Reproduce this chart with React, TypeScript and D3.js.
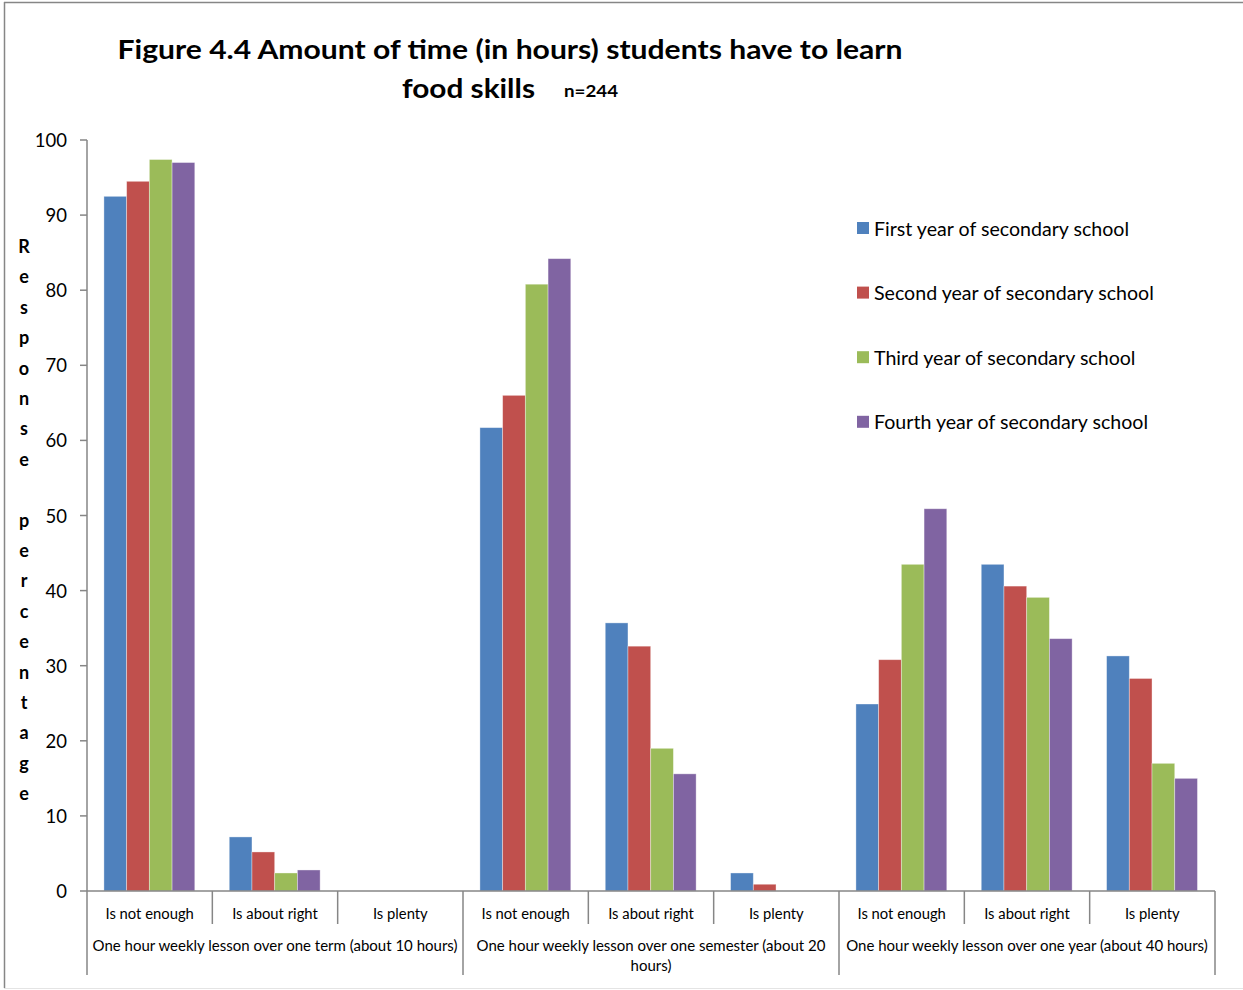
import React from "react";
import * as d3 from "d3";

const groups = [
  "One hour weekly lesson over one term (about 10 hours)",
  "One hour weekly lesson over one semester (about 20 hours)",
  "One hour weekly lesson over one year (about 40 hours)",
];
const answers = ["Is not enough", "Is about right", "Is plenty"];
const seriesNames = [
  "First year of secondary school",
  "Second year of secondary school",
  "Third year of secondary school",
  "Fourth year of secondary school",
];
const colors = ["#4F81BD", "#C0504D", "#9BBB59", "#8064A2"];
// values per category (group x answer), in series order
const firstYear = [92.5, 7.2, 0, 61.7, 35.7, 2.4, 24.9, 43.5, 31.3];
const secondYear = [94.5, 5.2, 0, 66.0, 32.6, 0.9, 30.8, 40.6, 28.3];
const thirdYear = [97.4, 2.4, 0, 80.8, 19.0, 0, 43.5, 39.1, 17.0];
const fourthYear = [97.0, 2.8, 0, 84.2, 15.6, 0, 50.9, 33.6, 15.0];
const yTicks = [0, 10, 20, 30, 40, 50, 60, 70, 80, 90, 100];
const yLabel = "Response percentage";

const seriesValues = [firstYear, secondYear, thirdYear, fourthYear];

const FONT = "Lato, 'Open Sans', sans-serif";
const AXIS = "#868686";

export default function App() {
  const left = 87;
  const right = 1215;
  const top = 140;
  const bottom = 891;

  const cats = groups.flatMap((g, gi) => answers.map((a, ai) => `${gi}-${ai}`));
  const x = d3.scaleBand<string>().domain(cats).range([left, right]).paddingInner(0).paddingOuter(0);
  const bw = x.bandwidth();
  const inner = d3
    .scaleBand<number>()
    .domain(d3.range(seriesNames.length))
    .range([bw * 0.135, bw * 0.86])
    .padding(0);
  const y = d3.scaleLinear().domain([0, 100]).range([bottom, top]);

  const groupW = bw * answers.length;

  return (
    <svg
      width={1243}
      height={990}
      style={{ position: "absolute", left: 0, top: 0, background: "#fff" }}
      fontFamily={FONT}
    >
      <rect x={0} y={0} width={1243} height={990} fill="#fff" />
      {/* outer frame */}
      <line x1={4.5} y1={2} x2={4.5} y2={988} stroke={AXIS} strokeWidth={1.5} />
      <line x1={4} y1={2.5} x2={1243} y2={2.5} stroke={AXIS} strokeWidth={1.5} />
      <line x1={4} y1={988.5} x2={1243} y2={988.5} stroke="#e4e4e4" strokeWidth={1} />

      {/* title */}
      <text x={510} y={59} textAnchor="middle" fontWeight="bold" fontSize={27} fill="#000"
        textLength={785} lengthAdjust="spacingAndGlyphs">
        Figure 4.4 Amount of time (in hours) students have to learn
      </text>
      <text x={402} y={98} fontWeight="bold" fontSize={27} fill="#000" textLength={133} lengthAdjust="spacingAndGlyphs">
        food skills
      </text>
      <text x={564} y={97} fontWeight="bold" fontSize={17} fill="#000" textLength={54} lengthAdjust="spacingAndGlyphs">
        n=244
      </text>

      {/* y axis label, stacked letters */}
      {yLabel.split("").map((ch, i) => (
        <text key={i} x={24} y={246 + i * 30.4} textAnchor="middle" dominantBaseline="central"
          fontWeight="bold" fontSize={18} fill="#000">
          {ch}
        </text>
      ))}

      {/* bars */}
      {seriesValues.map((vals, si) =>
        vals.map((v, ci) =>
          v > 0 ? (
            <rect
              key={`${si}-${ci}`}
              x={(x(cats[ci]) as number) + (inner(si) as number)}
              y={y(v)}
              width={inner.bandwidth()}
              height={bottom - y(v)}
              fill={colors[si]}
              stroke="rgba(255,255,255,0.45)"
              strokeWidth={0.8}
            />
          ) : null
        )
      )}

      {/* y axis */}
      <line x1={left} y1={top} x2={left} y2={975} stroke={AXIS} strokeWidth={1.5} />
      {yTicks.map((t) => (
        <g key={t}>
          <line x1={left - 7} x2={left} y1={y(t)} y2={y(t)} stroke={AXIS} strokeWidth={1.5} />
          <text x={67} y={y(t)} textAnchor="end" dominantBaseline="central" fontSize={18.5} fill="#000">
            {t}
          </text>
        </g>
      ))}

      {/* x axis */}
      <line x1={left} y1={bottom} x2={right} y2={bottom} stroke={AXIS} strokeWidth={1.5} />
      {cats.map((c, ci) => {
        const x0 = x(c) as number;
        const isGroupStart = ci % answers.length === 0;
        return (
          <g key={c}>
            {!isGroupStart && (
              <line x1={x0} x2={x0} y1={bottom} y2={924} stroke={AXIS} strokeWidth={1.5} />
            )}
            <text x={x0 + bw / 2} y={913} textAnchor="middle" dominantBaseline="central" fontSize={14.8} fill="#000">
              {answers[ci % answers.length]}
            </text>
          </g>
        );
      })}
      {groups.map((g, gi) => {
        const gx = left + gi * groupW;
        const words = g.split(" ");
        const lines = gi === 1 ? [words.slice(0, -1).join(" "), words[words.length - 1]] : [g];
        return (
          <g key={g}>
            <line x1={gx + groupW} x2={gx + groupW} y1={bottom} y2={975} stroke={AXIS} strokeWidth={1.5} />
            {lines.map((ln, li) => (
              <text key={li} x={gx + groupW / 2} y={945 + li * 19.5} textAnchor="middle"
                dominantBaseline="central" fontSize={15} fill="#000">
                {ln}
              </text>
            ))}
          </g>
        );
      })}

      {/* legend */}
      {seriesNames.map((s, si) => (
        <g key={s}>
          <rect x={857} y={222 + si * 64.6} width={12} height={12} fill={colors[si]} />
          <text x={874} y={228 + si * 64.6} dominantBaseline="central" fontSize={19.6} fill="#000">
            {s}
          </text>
        </g>
      ))}
    </svg>
  );
}
